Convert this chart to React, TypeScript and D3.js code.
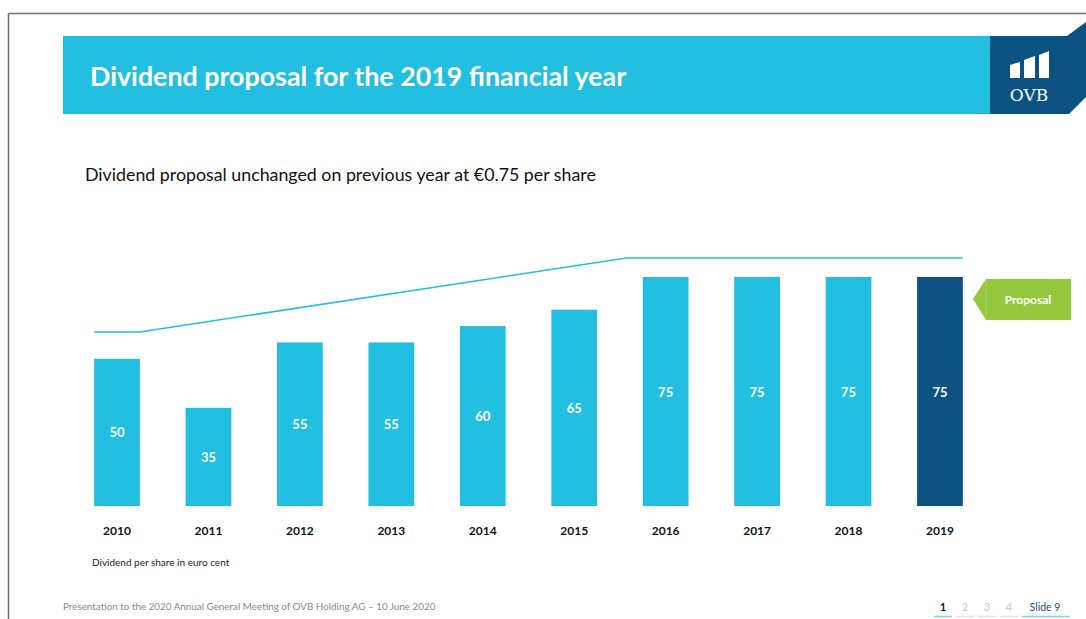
import React from "react";
import * as d3 from "d3";

const years = ["2010", "2011", "2012", "2013", "2014", "2015", "2016", "2017", "2018", "2019"];
const dividends = [50, 35, 55, 55, 60, 65, 75, 75, 75, 75];
const proposalYear = "2019";
// trend line: position in band index units, and value level
const trendIdx = [-0.25, 0.25, 5.57, 9.25];
const trendVal = [58.2, 58.2, 80.8, 80.8];
const navPages = ["1", "2", "3", "4"];

const W = 1086;
const H = 619;
const LIGHT = "#22bfe0";
const DARK = "#0b5282";
const GREEN = "#95c93d";
const FONT = "Lato, 'Open Sans', sans-serif";

export default function App() {
  const x = d3.scaleBand<string>().domain(years).range([71.3, 985.7]).paddingInner(0.5).paddingOuter(0.25);
  const y = d3.scaleLinear().domain([5, 75]).range([506, 277]);
  const bw = x.bandwidth();
  const idxToX = d3.scaleLinear().domain([0, 9]).range([x(years[0])! + bw / 2, x(years[9])! + bw / 2]);
  const line = d3
    .line<number>()
    .x((_, i) => idxToX(trendIdx[i]))
    .y((v) => y(v));

  return (
    <div style={{ position: "absolute", left: 0, top: 0 }}>
      <svg width={W} height={H} style={{ display: "block", fontFamily: FONT }}>
        <rect width={W} height={H} fill="#fff" />
        {/* slide frame */}
        <line x1={8.5} y1={13.5} x2={W} y2={13.5} stroke="#6f6f6f" strokeWidth={1.5} />
        <line x1={8.5} y1={13.5} x2={8.5} y2={H} stroke="#6f6f6f" strokeWidth={1.5} />
        {/* header */}
        <rect x={63} y={36} width={928} height={78} fill={LIGHT} />
        <polygon points="990,36 1067,36 1086,22 1086,97 1069,114 990,114" fill={DARK} />
        {/* logo */}
        <polygon points="1010,65 1020,62 1020,78 1010,78" fill="#fff" />
        <polygon points="1024,60 1035,56 1035,78 1024,78" fill="#fff" />
        <polygon points="1039,55 1049,51 1049,78 1039,78" fill="#fff" />
        <text x={1029} y={101} fill="#fff" fontFamily="'DejaVu Serif', 'Liberation Serif', serif" fontSize={17} textAnchor="middle">
          OVB
        </text>
        <text x={90} y={86} fill="#fff" fontSize={26.8} fontWeight="bold">
          Dividend proposal for the 2019 financial year
        </text>
        <text x={85} y={181} fill="#111" fontSize={17.8}>
          Dividend proposal unchanged on previous year at €0.75 per share
        </text>

        {/* trend line */}
        <path d={line(trendVal) || ""} fill="none" stroke={LIGHT} strokeWidth={1.6} />

        {/* bars */}
        {years.map((yr, i) => {
          const v = dividends[i];
          const top = y(v);
          const bottom = y(5);
          return (
            <g key={yr}>
              <rect x={x(yr)} y={top} width={bw} height={bottom - top} fill={yr === proposalYear ? DARK : LIGHT} />
              <text x={x(yr)! + bw / 2} y={(top + bottom) / 2 + 5} fill="#fff" fontWeight="bold" fontSize={13} textAnchor="middle">
                {v}
              </text>
              <text x={x(yr)! + bw / 2} y={535} fill="#111" fontWeight="bold" fontSize={12} textAnchor="middle">
                {yr}
              </text>
            </g>
          );
        })}

        {/* proposal tag */}
        <polygon points="973,299 986,279 1071,279 1071,320 986,320" fill={GREEN} />
        <line x1={986} y1={279} x2={986} y2={320} stroke="#b5da7a" strokeWidth={0.8} />
        <text x={1028} y={304} fill="#fff" fontWeight="bold" fontSize={12} textAnchor="middle">
          Proposal
        </text>

        <text x={92} y={566} fill="#222" fontSize={10}>
          Dividend per share in euro cent
        </text>
        <text x={63} y={610} fill="#8a8a8a" fontSize={9.85}>
          Presentation to the 2020 Annual General Meeting of OVB Holding AG – 10 June 2020
        </text>

        {/* navigation */}
        {navPages.map((p, i) => {
          const cx = 943 + i * 22;
          return (
            <g key={p}>
              <text x={cx} y={611} fontSize={10.5} textAnchor="middle" fill={i === 0 ? "#111" : "#c8c8c8"} fontWeight={i === 0 ? "bold" : "normal"}>
                {p}
              </text>
              <line x1={cx - 9} y1={616.5} x2={cx + 9} y2={616.5} stroke={i === 0 ? "#7fd3e8" : "#e2e2e2"} strokeWidth={1.5} />
            </g>
          );
        })}
        <text x={1045} y={611} fontSize={10.5} textAnchor="middle" fill="#1f4e79">
          Slide  9
        </text>
        <line x1={1022} y1={616.5} x2={1070} y2={616.5} stroke="#7fd3e8" strokeWidth={1.5} />
      </svg>
    </div>
  );
}
